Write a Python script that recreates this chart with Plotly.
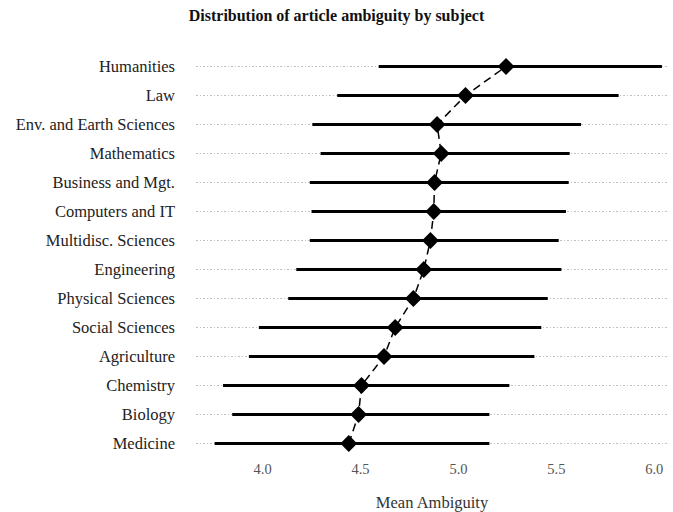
import plotly.graph_objects as go

# Subjects ordered bottom-to-top on the chart
subjects = [
    "Medicine", "Biology", "Chemistry", "Agriculture", "Social Sciences",
    "Physical Sciences", "Engineering", "Multidisc. Sciences",
    "Computers and IT", "Business and Mgt.", "Mathematics",
    "Env. and Earth Sciences", "Law", "Humanities",
]
mean_ambiguity = [4.44, 4.49, 4.505, 4.62, 4.677, 4.77, 4.823, 4.857,
                  4.874, 4.878, 4.912, 4.891, 5.036, 5.243]
lower = [3.755, 3.845, 3.798, 3.93, 3.981, 4.131, 4.172, 4.241,
         4.25, 4.241, 4.296, 4.254, 4.381, 4.593]
upper = [5.158, 5.158, 5.26, 5.388, 5.423, 5.456, 5.526, 5.512,
         5.549, 5.563, 5.568, 5.626, 5.818, 6.039]
x_ticks = [4.0, 4.5, 5.0, 5.5, 6.0]

FONT = "Liberation Serif"

err_plus = [u - m for u, m in zip(upper, mean_ambiguity)]
err_minus = [m - l for m, l in zip(mean_ambiguity, lower)]

fig = go.Figure()

# Intervals as cap-less error bars
fig.add_trace(go.Scatter(
    x=mean_ambiguity, y=subjects, mode="markers",
    marker=dict(size=1, color="rgba(0,0,0,0)"),
    error_x=dict(type="data", symmetric=False, array=err_plus,
                 arrayminus=err_minus, thickness=3, width=0, color="black"),
    hoverinfo="skip", showlegend=False,
))

# Dashed line through the means with diamond markers
fig.add_trace(go.Scatter(
    x=mean_ambiguity, y=subjects, mode="lines+markers",
    line=dict(color="black", width=1.5, dash="8px,5px"),
    marker=dict(symbol="diamond", size=13, color="black"),
    showlegend=False,
))

fig.update_layout(
    width=673, height=512,
    margin=dict(l=196, r=5, t=52, b=54),
    paper_bgcolor="white", plot_bgcolor="white",
    font=dict(family=FONT, color="#222222"),
    title=dict(text="<b>Distribution of article ambiguity by subject</b>",
               x=0.5, xref="container", xanchor="center",
               y=0.97, yref="container", yanchor="middle",
               font=dict(family=FONT, size=16, color="#111111")),
    xaxis=dict(range=[3.66, 6.07], tickvals=x_ticks,
               ticktext=[f"{v:.1f}" for v in x_ticks],
               showgrid=False, zeroline=False, showline=False, ticks="",
               tickfont=dict(family=FONT, size=14.5, color="#555555"),
               title=dict(text="Mean Ambiguity", standoff=20,
                          font=dict(family=FONT, size=16.5, color="#333333"))),
    yaxis=dict(type="category", categoryorder="array", categoryarray=subjects,
               range=[-0.5, 13.5], showgrid=True, gridcolor="#c0c0c0",
               griddash="1.5px,2px", gridwidth=1.2, zeroline=False,
               showline=False, ticks="", ticklabelstandoff=20,
               tickfont=dict(family=FONT, size=16.5, color="#222222")),
)

fig.write_html("out.html")
